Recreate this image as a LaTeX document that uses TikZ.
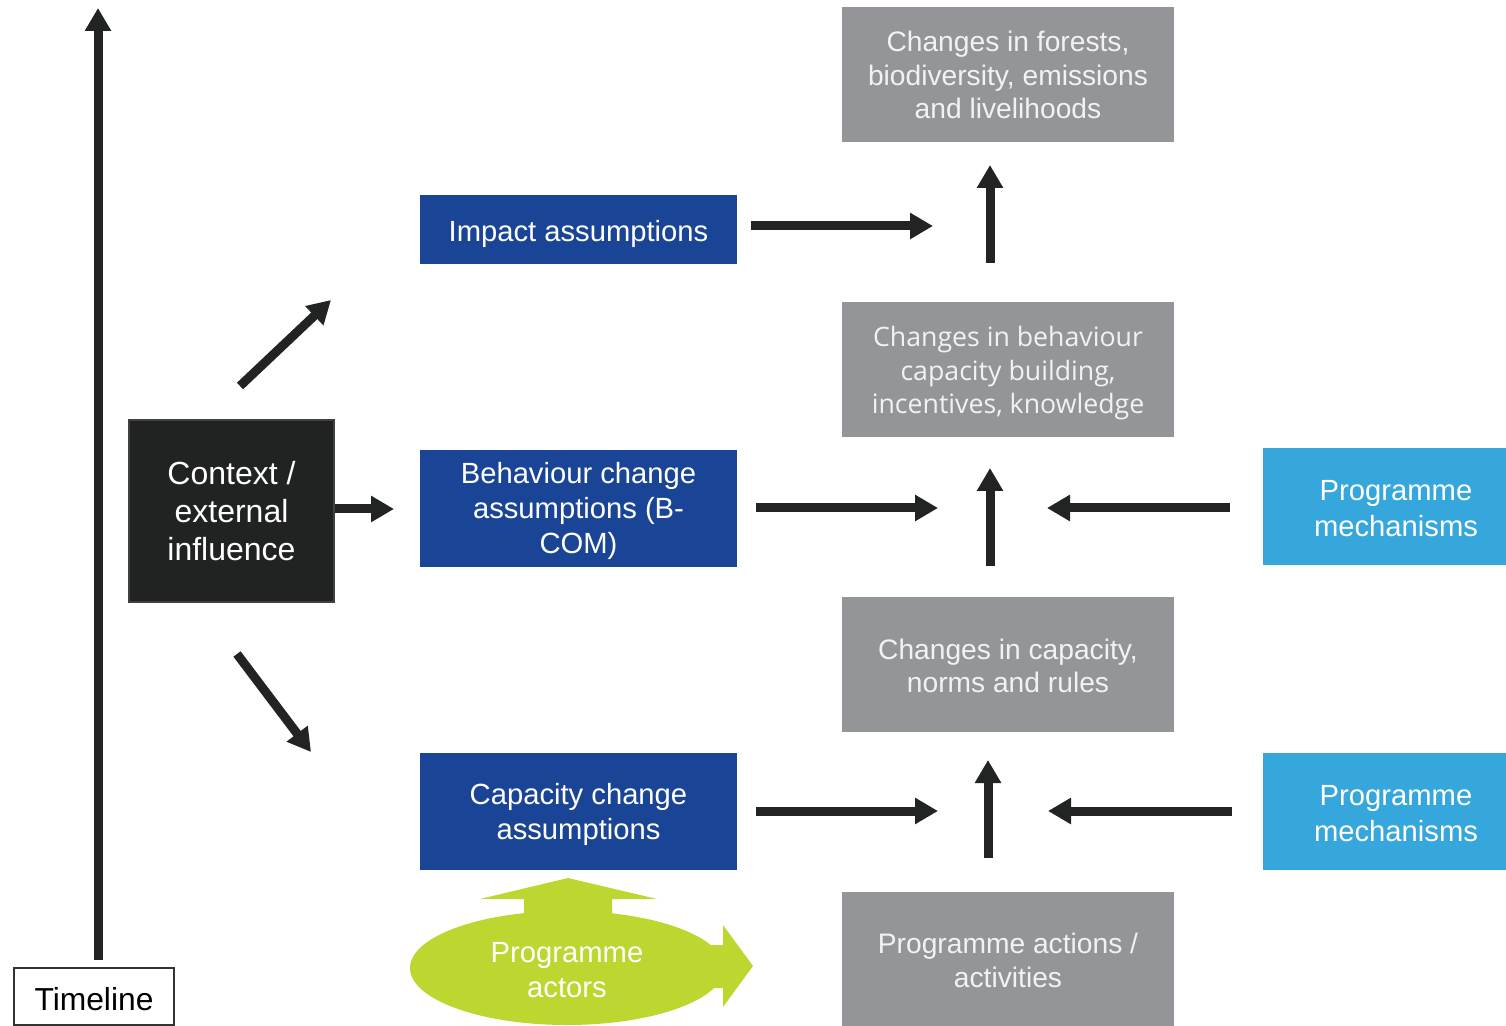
\documentclass[tikz,border=0pt]{standalone}
\usepackage{fontspec}
\setmainfont{Liberation Sans}
\newfontfamily\segoe{Open Sans}
\usetikzlibrary{arrows.meta,shapes.geometric}
\definecolor{dblue}{HTML}{1A4597}
\definecolor{lblue}{HTML}{35A7DD}
\definecolor{boxgray}{HTML}{939598}
\definecolor{ctxblack}{HTML}{212322}
\definecolor{arrc}{HTML}{222323}
\definecolor{leaf}{HTML}{BDD630}
\newcommand\tdn[1]{\rule{0pt}{\dimexpr\fontcharht\font`d+#1pt\relax}}
\tikzset{
  txtA/.style={font=\fontsize{14.6}{17.5}\selectfont},
  bluebox/.style={fill=dblue, text=white, align=center, inner sep=0pt, minimum width=158.5pt, txtA},
  graybox/.style={fill=boxgray, text=white!95!black, align=center, inner sep=0pt, minimum width=166pt, minimum height=67.5pt, font=\fontsize{14.1}{16.75}\selectfont},
  mechbox/.style={fill=lblue, text=white, align=center, inner sep=0pt, minimum width=133pt, minimum height=58.5pt, font=\fontsize{14.6}{18}\selectfont},
  arr/.style={line width=4.5pt, draw=arrc, -{Triangle[length=11.5pt,width=12.5pt]}},
}
\begin{document}
\begin{tikzpicture}[x=0.5pt,y=-0.5pt]
\useasboundingbox (0,0) rectangle (1506,1026);

% Timeline
\coordinate (tlA) at (98,960);
\coordinate (tlB) at (98,8);
\draw[arr] (tlA) -- (tlB);
\node[draw=black!80, line width=1pt, fill=white, minimum width=80pt, minimum height=28.5pt, inner sep=0pt, font=\fontsize{15.9}{19}\selectfont] (timeline) at (94,996.5) {\tdn{3}Timeline};

% Context
\node[fill=ctxblack, draw=black!75, line width=0.8pt, text=white, align=center, minimum width=102.5pt, minimum height=91pt, inner sep=0pt, font=\fontsize{16}{19}\selectfont] (context) at (231.5,511) {\tdn{1}Context /\\ external\\ influence};

% Blue assumption boxes
\node[bluebox, minimum height=34.5pt] (impact) at (578.5,229.5) {\tdn{5}Impact assumptions};
\node[bluebox, minimum height=58.5pt] (behav) at (578.5,508.5) {\tdn{3}Behaviour change\\ assumptions (B-\\ COM)};
\node[bluebox, minimum height=58.5pt] (capac) at (578.5,811.5) {\tdn{3}Capacity change\\ assumptions};

% Gray change boxes
\node[graybox] (forests) at (1008,74.5) {\tdn{1}Changes in forests,\\ biodiversity, emissions\\ and livelihoods};
\node[graybox, font=\segoe\fontsize{13.35}{16.75}\selectfont] (cbehav) at (1008,369.5) {\tdn{4}Changes in behaviour\\ capacity building,\\ incentives, knowledge};
\node[graybox] (ccap) at (1008,664.5) {\tdn{2}Changes in capacity,\\ norms and rules};
\node[graybox, minimum height=67pt] (actions) at (1008,959) {\tdn{2}Programme actions /\\ activities};

% Programme mechanisms
\node[mechbox] (mech1) at (1396,506.5) {\tdn{2}Programme\\ mechanisms};
\node[mechbox] (mech2) at (1396,811.5) {\tdn{2}Programme\\ mechanisms};

% Programme actors (green shape)
\fill[leaf] (567,968) ellipse [x radius=157, y radius=57];
\fill[leaf] (524,920) -- (524,899) -- (480,899) -- (568,878) -- (657,899) -- (612,899) -- (612,920) -- cycle;
\fill[leaf] (690,945) -- (723,945) -- (723,925) -- (753,966) -- (723,1007) -- (723,988) -- (690,988) -- cycle;
\node[text=white, align=center, font=\fontsize{14.6}{17.5}\selectfont] (actors) at (567,969) {\tdn{1}Programme\\ actors};

% Arrow end points
\coordinate (c1a) at (335,509);   \coordinate (c1b) at (394,509);
\coordinate (c2a) at (240,386);   \coordinate (c2b) at (331,300);
\coordinate (c3a) at (237,654);   \coordinate (c3b) at (311,752);
\coordinate (h1a) at (751,226);   \coordinate (h1b) at (933,226);
\coordinate (h2a) at (756,508);   \coordinate (h2b) at (938,508);
\coordinate (h3a) at (756,811);   \coordinate (h3b) at (938,811);
\coordinate (v1a) at (990,263);   \coordinate (v1b) at (990,165);
\coordinate (v2a) at (990,566);   \coordinate (v2b) at (990,468);
\coordinate (v3a) at (988,858);   \coordinate (v3b) at (988,760);
\coordinate (m1a) at (1230,508);  \coordinate (m1b) at (1047,508);
\coordinate (m2a) at (1232,811);  \coordinate (m2b) at (1048,811);

\draw[arr] (c1a) -- (c1b);
\draw[arr] (c2a) -- (c2b);
\draw[arr] (c3a) -- (c3b);
\draw[arr] (h1a) -- (h1b);
\draw[arr] (h2a) -- (h2b);
\draw[arr] (h3a) -- (h3b);
\draw[arr] (v1a) -- (v1b);
\draw[arr] (v2a) -- (v2b);
\draw[arr] (v3a) -- (v3b);
\draw[arr] (m1a) -- (m1b);
\draw[arr] (m2a) -- (m2b);
\end{tikzpicture}
\end{document}
